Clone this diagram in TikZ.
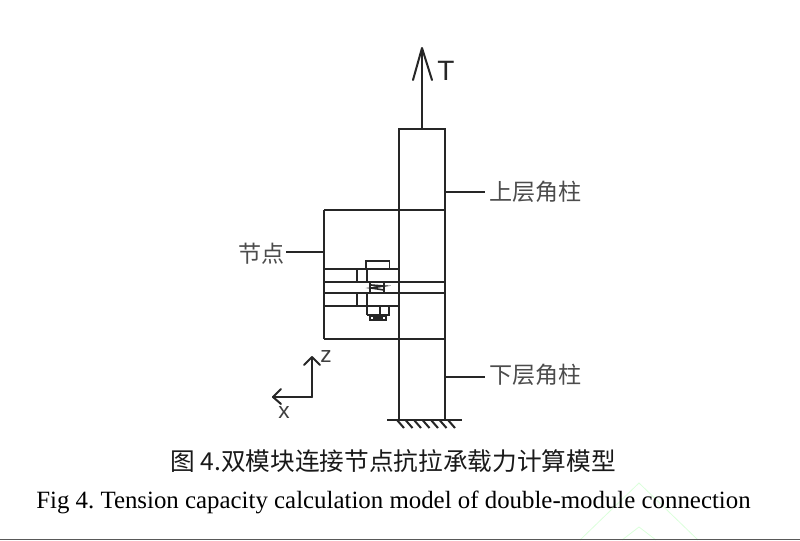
\documentclass[tikz,border=0pt]{standalone}
\usepackage{fontspec}
\setmainfont{Liberation Serif}
\newfontfamily\cjk{Noto Sans CJK SC}
\newfontfamily\lsans{Liberation Sans}
\frenchspacing
\begin{document}
\begin{tikzpicture}[x=0.75pt,y=-0.75pt,
  struct/.style={draw=black!85,line width=1.5pt},
  thin part/.style={draw=black!85,line width=1.2pt},
  lab/.style={inner sep=0pt,text=black!70,font=\cjk\fontsize{17.3}{19}\selectfont},
  captext/.style={inner sep=0pt,text=black,anchor=west},
  leader/.style={draw=black!85,line width=1.4pt}]
\useasboundingbox (0,0) rectangle (800,540);
\fill[white] (0,0) rectangle (800,540);
% faint background mark
\draw[green!40!white,opacity=.35,line width=.6pt] (580,540) -- (639,483) -- (698,540);
\draw[green!40!white,opacity=.35,line width=.6pt] (622,540) -- (639,527) -- (656,540);
\draw[black!65,line width=.9pt] (0,539.5) -- (800,539.5);
% columns
\draw[struct] (399,419) -- (399,129) -- (445,129) -- (445,419);
\draw[struct] (324,210) -- (445,210);
\draw[struct] (324,339) -- (445,339);
\draw[struct] (324,210) -- (324,339);
% plates
\draw[struct] (324,269) -- (399,269);
\draw[struct] (324,282) -- (445,282);
\draw[struct] (324,293) -- (445,293);
\draw[struct] (324,306) -- (399,306);
\draw[struct] (357,269) -- (357,282) (357,293) -- (357,306);
\draw[struct] (367,269) -- (367,282) (367,293) -- (367,315);
% bolt
\draw[thin part] (366,269) -- (366,261) -- (389.5,261) -- (389.5,269);
\draw[thin part] (370,282) rectangle (384,293);
\draw[thin part] (371,285) -- (384,286) -- (371,288) -- (384,290);
\draw[thin part] (389,306) -- (389,315) -- (367,315);
\draw[thin part] (380,306) -- (380,315);
\draw[thin part] (370,316) rectangle (386,320);
\draw[thin part] (373,318) -- (383,318);
% load
\coordinate (topmid) at (422,129);
\coordinate (tip) at (422,48);
\draw[struct] (topmid) -- (tip);
\draw[struct,line cap=round,line join=round] (413,80) -- (tip) -- (432,80);
\node[inner sep=0pt,font=\lsans\fontsize{21}{23}\selectfont,text=black!85] (T) at (446,71) {T};
% labels
\node[lab,anchor=west] (up) at (489,192) {上层角柱};
\node[lab,anchor=west] (low) at (489,375) {下层角柱};
\node[lab,anchor=east] (jd) at (285,254) {节点};
\coordinate (upc) at (445,192);
\coordinate (lowc) at (445,377);
\coordinate (jdc) at (324,252);
\draw[leader] (upc) -- (485,192);
\draw[leader] (lowc) -- (485,377);
\draw[leader] (jdc) -- (286,252);
% axes
\coordinate (o) at (312,397);
\draw[struct,line cap=round,line join=round] (o) -- (312,357);
\draw[struct,line cap=round,line join=round] (304,365) -- (312,357) -- (320,365);
\draw[struct,line cap=round,line join=round] (o) -- (273,397);
\draw[struct,line cap=round,line join=round] (281,389) -- (273,397) -- (281,404);
\node[inner sep=0pt,font=\lsans\fontsize{17}{19}\selectfont,text=black!75] (z) at (326,357) {z};
\node[inner sep=0pt,font=\lsans\fontsize{17}{19}\selectfont,text=black!75] (x) at (284,413) {x};
% ground
\draw[struct] (387,419.5) -- (462,419.5);
\foreach \i in {0,...,6} \draw[struct] ({397+\i*8.5},420) -- ({404+\i*8.5},428);
% captions
\node[inner sep=0pt,anchor=west,text=black!90,font=\cjk\fontsize{18.5}{21}\selectfont] (c1) at (170,461) {图 4.双模块连接节点抗拉承载力计算模型};
\node[captext,font=\fontsize{18.65}{21}\selectfont] (c2) at (36,502) {Fig 4. Tension capacity calculation model of double-module connection};
\end{tikzpicture}
\end{document}
